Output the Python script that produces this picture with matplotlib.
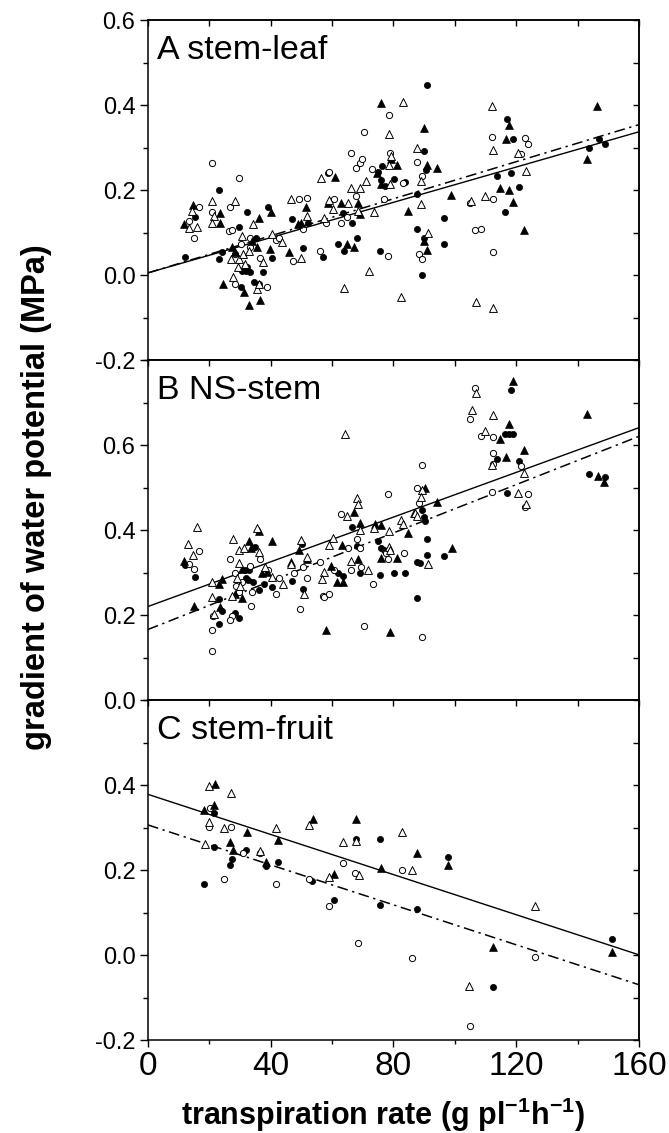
import numpy as np
import matplotlib
matplotlib.use("Agg")
import matplotlib.pyplot as plt
from matplotlib.ticker import MultipleLocator, FixedLocator

plt.rcParams['font.family'] = ['Liberation Sans', 'DejaVu Sans']
plt.rcParams['axes.unicode_minus'] = False

# ---- panel A: stem-leaf ----
a_fc_x = [15.2, 12.2, 23.1, 24.2, 23.1, 29.8, 32.2, 30.3, 30.6, 32.2, 31.9, 33.3, 35.2, 34.4, 36.3, 37.5, 39.1, 40.4,
          46.9, 52.3, 50.4, 58.6, 57.0, 61.9, 68.0, 63.9, 63.6, 66.6, 74.9, 76.3, 75.9, 77.3, 80.1, 83.8, 75.7, 87.6,
          89.8, 90.5, 87.8, 90.0, 89.4, 90.8, 96.4, 96.4, 116.9, 119.1, 113.9, 118.3, 120.8, 116.4, 143.7, 147.0, 148.8]
a_fc_y = [0.137, 0.043, 0.199, 0.053, 0.038, 0.112, 0.149, -0.029, 0.009, 0.018, 0.009, 0.006, 0.088, -0.017, -0.021,
          0.006, 0.159, 0.040, 0.131, 0.123, 0.063, 0.241, 0.043, 0.073, 0.087, 0.057, 0.147, 0.123, 0.242, 0.256,
          0.223, 0.209, 0.227, 0.220, 0.057, 0.109, 0.291, 0.248, 0.190, 0.087, 0.000, 0.448, 0.133, 0.073, 0.368,
          0.320, 0.233, 0.239, 0.207, 0.149, 0.299, 0.320, 0.309]
a_oc_x = [13.5, 15.0, 16.5, 20.9, 21.0, 26.7, 29.8, 26.4, 27.5, 28.4, 30.3, 28.2, 33.3, 33.3, 36.6, 38.8, 41.6, 42.7,
          49.3, 51.8, 50.4, 47.3, 57.9, 60.5, 59.0, 56.1, 62.8, 64.9, 67.8, 66.1, 67.8, 69.1, 69.6, 70.4, 72.9, 78.4,
          78.8, 77.0, 78.2, 83.2, 87.8, 89.2, 88.3, 89.2, 105.1, 112.5, 106.5, 108.5, 112.5, 112.2, 122.8, 123.9, 121.7]
a_oc_y = [0.126, 0.087, 0.159, 0.263, 0.149, 0.159, 0.229, 0.104, 0.105, 0.049, 0.073, -0.020, 0.088, 0.066, 0.041,
          -0.029, 0.082, 0.087, 0.178, 0.182, 0.108, 0.034, 0.123, 0.178, 0.243, 0.057, 0.122, 0.137, 0.186, 0.286,
          0.252, 0.264, 0.272, 0.336, 0.250, 0.377, 0.286, 0.178, 0.045, 0.217, 0.266, 0.233, 0.049, 0.038, 0.169,
          0.178, 0.106, 0.109, 0.053, 0.325, 0.323, 0.309, 0.284]
a_ft_x = [11.9, 14.6, 23.4, 23.4, 27.3, 28.2, 24.3, 31.4, 33.0, 35.5, 33.9, 36.3, 40.2, 39.6, 36.6, 51.5, 49.8, 49.0,
          46.0, 58.6, 60.8, 64.9, 67.1, 63.0, 68.5, 69.1, 74.6, 76.0, 75.9, 79.2, 81.2, 84.7, 89.8, 90.8, 94.1, 89.8,
          90.9, 98.8, 117.5, 116.7, 114.7, 117.7, 119.1, 122.4, 146.4, 143.0]
a_ft_y = [0.121, 0.165, 0.147, 0.123, 0.065, 0.055, -0.021, -0.041, -0.070, 0.065, 0.080, 0.135, 0.148, 0.061, -0.058,
          0.160, 0.123, 0.120, 0.055, 0.170, 0.231, 0.074, 0.065, 0.170, 0.170, 0.143, 0.241, 0.213, 0.405, 0.274,
          0.260, 0.151, 0.345, 0.259, 0.252, 0.080, 0.059, 0.188, 0.354, 0.321, 0.205, 0.200, 0.172, 0.105, 0.398,
          0.272]
a_ot_x = [13.3, 16.1, 14.4, 20.9, 21.5, 21.0, 28.2, 27.1, 29.7, 30.6, 27.8, 29.3, 31.7, 31.1, 32.8, 37.4, 35.5, 36.1,
          34.2, 40.5, 43.8, 46.5, 51.8, 49.8, 57.5, 58.9, 60.3, 56.4, 63.9, 65.2, 68.3, 66.3, 69.1, 71.1, 73.5, 79.0,
          78.7, 79.2, 78.4, 71.9, 83.2, 82.3, 87.8, 89.1, 88.9, 91.3, 105.4, 109.8, 107.0, 112.3, 112.0, 112.5, 120.5,
          123.3]
a_ot_y = [0.110, 0.112, 0.151, 0.174, 0.139, 0.123, 0.174, 0.038, 0.038, 0.092, -0.005, 0.018, 0.026, 0.049, 0.057,
          0.030, -0.033, -0.020, 0.120, 0.096, 0.077, 0.180, 0.139, 0.039, 0.135, 0.177, 0.155, 0.229, -0.030, 0.170,
          0.151, 0.205, 0.205, 0.221, 0.149, 0.213, 0.332, 0.280, 0.260, 0.010, 0.407, -0.052, 0.299, 0.221, 0.166,
          0.098, 0.174, 0.186, -0.064, -0.077, 0.397, 0.294, 0.287, 0.245]

# ---- panel B: NS-stem ----
b_fc_x = [12.2, 15.2, 23.1, 24.2, 23.1, 35.0, 31.7, 32.8, 31.9, 32.6, 34.2, 28.2, 29.8, 36.3, 37.7, 40.5, 46.9, 50.2,
          50.4, 61.9, 63.4, 66.6, 68.0, 69.1, 74.9, 75.9, 76.8, 75.7, 80.3, 83.9, 89.4, 89.8, 90.3, 90.8, 90.8, 87.8,
          88.7, 87.6, 96.4, 118.3, 116.4, 117.5, 119.1, 113.9, 120.8, 116.9, 143.7, 148.8]
b_fc_y = [0.317, 0.290, 0.237, 0.210, 0.180, 0.361, 0.306, 0.307, 0.286, 0.282, 0.277, 0.205, 0.194, 0.259, 0.274,
          0.266, 0.281, 0.368, 0.261, 0.298, 0.292, 0.408, 0.362, 0.300, 0.375, 0.357, 0.353, 0.294, 0.300, 0.300,
          0.448, 0.431, 0.421, 0.378, 0.341, 0.325, 0.323, 0.241, 0.339, 0.730, 0.625, 0.625, 0.625, 0.566, 0.562,
          0.487, 0.531, 0.524]
b_oc_x = [16.5, 13.5, 15.0, 21.2, 20.9, 20.9, 26.7, 36.6, 28.2, 33.3, 28.7, 29.8, 30.6, 27.5, 26.7, 33.7, 33.9, 39.2,
          42.7, 41.6, 47.6, 50.6, 51.8, 49.5, 55.9, 57.0, 57.5, 59.0, 60.6, 65.2, 66.3, 62.8, 68.0, 69.1, 69.3, 73.3,
          70.5, 77.6, 78.2, 83.4, 78.2, 87.6, 88.3, 89.2, 89.4, 106.7, 105.1, 108.5, 112.5, 112.5, 112.5, 121.7, 112.2,
          123.9, 122.8]
b_oc_y = [0.351, 0.321, 0.308, 0.197, 0.165, 0.115, 0.332, 0.332, 0.298, 0.315, 0.268, 0.255, 0.277, 0.197, 0.188,
          0.221, 0.255, 0.307, 0.286, 0.249, 0.300, 0.312, 0.288, 0.214, 0.325, 0.245, 0.243, 0.249, 0.307, 0.357,
          0.306, 0.437, 0.380, 0.357, 0.312, 0.272, 0.174, 0.345, 0.331, 0.345, 0.484, 0.498, 0.464, 0.553, 0.149,
          0.734, 0.661, 0.621, 0.618, 0.582, 0.555, 0.551, 0.490, 0.484, 0.455]
b_ft_x = [11.7, 14.9, 23.1, 24.2, 23.4, 33.0, 33.6, 36.3, 30.8, 28.2, 30.8, 37.2, 38.8, 40.3, 46.5, 49.3, 51.7, 57.9,
          59.5, 61.6, 63.6, 63.3, 67.2, 69.1, 68.5, 74.0, 76.0, 76.0, 81.2, 79.0, 84.7, 86.7, 90.3, 94.2, 99.0, 114.7,
          119.1, 117.5, 116.7, 122.4, 143.1, 146.6, 148.6]
b_ft_y = [0.328, 0.221, 0.274, 0.284, 0.219, 0.375, 0.357, 0.397, 0.308, 0.249, 0.239, 0.299, 0.302, 0.374, 0.325,
          0.353, 0.332, 0.165, 0.315, 0.277, 0.277, 0.364, 0.443, 0.417, 0.331, 0.415, 0.411, 0.335, 0.335, 0.161,
          0.392, 0.440, 0.498, 0.465, 0.358, 0.615, 0.751, 0.649, 0.571, 0.588, 0.674, 0.527, 0.513]
b_ot_x = [16.1, 13.0, 14.6, 20.9, 20.9, 21.6, 27.8, 29.7, 29.5, 31.4, 36.1, 35.5, 28.9, 27.3, 30.0, 38.1, 40.5, 44.0,
          46.5, 49.8, 51.7, 50.9, 57.2, 56.7, 58.9, 60.3, 65.0, 68.0, 68.3, 69.1, 66.3, 71.8, 64.1, 73.5, 78.4, 78.4,
          78.8, 82.3, 83.2, 86.9, 87.6, 89.2, 88.9, 91.4, 107.0, 105.6, 112.3, 109.8, 112.0, 122.4, 120.6, 123.3]
b_ot_y = [0.408, 0.367, 0.341, 0.278, 0.243, 0.202, 0.380, 0.353, 0.323, 0.357, 0.349, 0.404, 0.286, 0.245, 0.268,
          0.313, 0.290, 0.274, 0.321, 0.376, 0.337, 0.249, 0.302, 0.284, 0.364, 0.382, 0.433, 0.476, 0.462, 0.400,
          0.328, 0.307, 0.627, 0.404, 0.398, 0.361, 0.353, 0.423, 0.413, 0.440, 0.433, 0.495, 0.478, 0.321, 0.723,
          0.682, 0.670, 0.632, 0.553, 0.533, 0.488, 0.462]

# ---- panel C: stem-fruit ----
c_fc_x = [21.6, 21.5, 32.0, 27.5, 26.7, 38.3, 42.5, 18.3, 53.5, 67.8, 60.6, 75.7, 75.7, 87.8, 97.7, 112.3, 151.3]
c_fc_y = [0.334, 0.253, 0.246, 0.227, 0.211, 0.209, 0.218, 0.167, 0.175, 0.274, 0.129, 0.272, 0.117, 0.108, 0.231,
          -0.076, 0.037]
c_oc_x = [20.1, 19.9, 27.1, 31.1, 36.6, 24.9, 41.6, 52.6, 63.6, 67.4, 58.9, 68.5, 82.8, 85.9, 126.0, 104.8]
c_oc_y = [0.345, 0.301, 0.301, 0.241, 0.241, 0.178, 0.167, 0.178, 0.217, 0.192, 0.115, 0.029, 0.200, -0.006, -0.004,
          -0.168]
c_ft_x = [21.8, 18.3, 21.6, 32.2, 26.6, 27.8, 38.5, 42.5, 53.7, 60.6, 67.7, 75.9, 87.8, 97.9, 112.3, 151.3]
c_ft_y = [0.402, 0.341, 0.352, 0.290, 0.265, 0.247, 0.219, 0.270, 0.319, 0.190, 0.321, 0.204, 0.239, 0.211, 0.018,
          0.006]
c_ot_x = [19.8, 27.1, 19.9, 24.9, 18.5, 36.6, 41.8, 52.6, 58.9, 63.6, 67.7, 68.9, 82.9, 86.1, 126.1, 104.5]
c_ot_y = [0.397, 0.382, 0.312, 0.299, 0.261, 0.245, 0.298, 0.305, 0.184, 0.266, 0.268, 0.188, 0.290, 0.200, 0.116,
          -0.074]

# regression lines: (intercept, slope) per panel, solid and dash-dot
fit_solid = [(0.005, 0.002075), (0.220, 0.00263), (0.378, -0.00236)]
fit_dashdot = [(0.005, 0.00218), (0.166, 0.00284), (0.306, -0.00235)]

panel_titles = ["A stem-leaf", "B NS-stem", "C stem-fruit"]
panel_ylims = [(-0.2, 0.6), (0.0, 0.8), (-0.2, 0.6)]
panel_yticks = [[-0.2, 0.0, 0.2, 0.4, 0.6], [0.0, 0.2, 0.4, 0.6], [-0.2, 0.0, 0.2, 0.4]]
x_ticks = [0, 40, 80, 120, 160]

series = [
    [(a_fc_x, a_fc_y), (a_oc_x, a_oc_y), (a_ft_x, a_ft_y), (a_ot_x, a_ot_y)],
    [(b_fc_x, b_fc_y), (b_oc_x, b_oc_y), (b_ft_x, b_ft_y), (b_ot_x, b_ot_y)],
    [(c_fc_x, c_fc_y), (c_oc_x, c_oc_y), (c_ft_x, c_ft_y), (c_ot_x, c_ot_y)],
]
styles = [
    dict(marker='o', s=20, facecolors='black', edgecolors='black', linewidths=0.5),
    dict(marker='o', s=20, facecolors='white', edgecolors='black', linewidths=0.7),
    dict(marker='^', s=32, facecolors='black', edgecolors='black', linewidths=0.5),
    dict(marker='^', s=32, facecolors='white', edgecolors='black', linewidths=0.7),
]

fig = plt.figure(figsize=(6.69, 11.33), dpi=100)
left, width = 0.2212, 0.7339
h = 340 / 1133
bottoms = [0.08208 + 2 * h, 0.08208 + h, 0.08208]

xs = np.linspace(0, 160, 50)
for i in range(3):
    ax = fig.add_axes([left, bottoms[i], width, h])
    for (x, y), st in zip(series[i], styles):
        ax.scatter(x, y, zorder=3, clip_on=False, **st)
    b0, b1 = fit_solid[i]
    ax.plot(xs, b0 + b1 * xs, color='black', lw=1.0, zorder=2)
    b0, b1 = fit_dashdot[i]
    ax.plot(xs, b0 + b1 * xs, color='black', lw=1.1, ls=(0, (7, 3, 1.5, 3)), zorder=2)

    ax.set_xlim(0, 160)
    ax.set_ylim(*panel_ylims[i])
    for sp in ax.spines.values():
        sp.set_linewidth(1.1)

    ax.yaxis.set_major_locator(FixedLocator(panel_yticks[i]))
    ax.yaxis.set_minor_locator(MultipleLocator(0.1))
    ax.set_yticklabels([f"{v:.1f}" for v in panel_yticks[i]])
    ax.tick_params(axis='y', which='major', direction='out', length=6, width=1.0,
                   labelsize=17, pad=3, right=False)
    ax.tick_params(axis='y', which='minor', direction='out', length=3.5, width=1.0, right=False)

    ax.xaxis.set_major_locator(FixedLocator(x_ticks))
    ax.xaxis.set_minor_locator(MultipleLocator(20))
    if i == 2:
        ax.tick_params(axis='x', which='major', direction='out', length=5, width=1.0,
                       labelsize=24, pad=3, top=False)
        ax.tick_params(axis='x', which='minor', direction='out', length=3, width=1.0, top=False)
    else:
        ax.tick_params(axis='x', which='both', length=0, labelbottom=False, top=False)

    # inward ticks on the top and right edges
    top = ax.secondary_xaxis('top')
    top.xaxis.set_major_locator(MultipleLocator(20))
    top.tick_params(direction='in', length=4, width=1.0, labeltop=False)
    right = ax.secondary_yaxis('right')
    right.yaxis.set_major_locator(MultipleLocator(0.1))
    right.tick_params(direction='in', length=4.5, width=1.0, labelright=False)
    for sp in list(top.spines.values()) + list(right.spines.values()):
        sp.set_linewidth(1.1)

    ax.text(0.018, 0.955, panel_titles[i], transform=ax.transAxes, fontsize=24.5,
            ha='left', va='top')

fig.text(0.054, 0.561, "gradient of water potential (MPa)", rotation=90, fontsize=23.5,
         fontweight='bold', ha='center', va='center')
fig.text(0.573, 0.0075, "transpiration rate (g pl$^{\\mathregular{-1}}$h$^{\\mathregular{-1}}$)",
         fontsize=22, fontweight='bold', ha='center', va='baseline')

fig.savefig("out.png", dpi=100)
